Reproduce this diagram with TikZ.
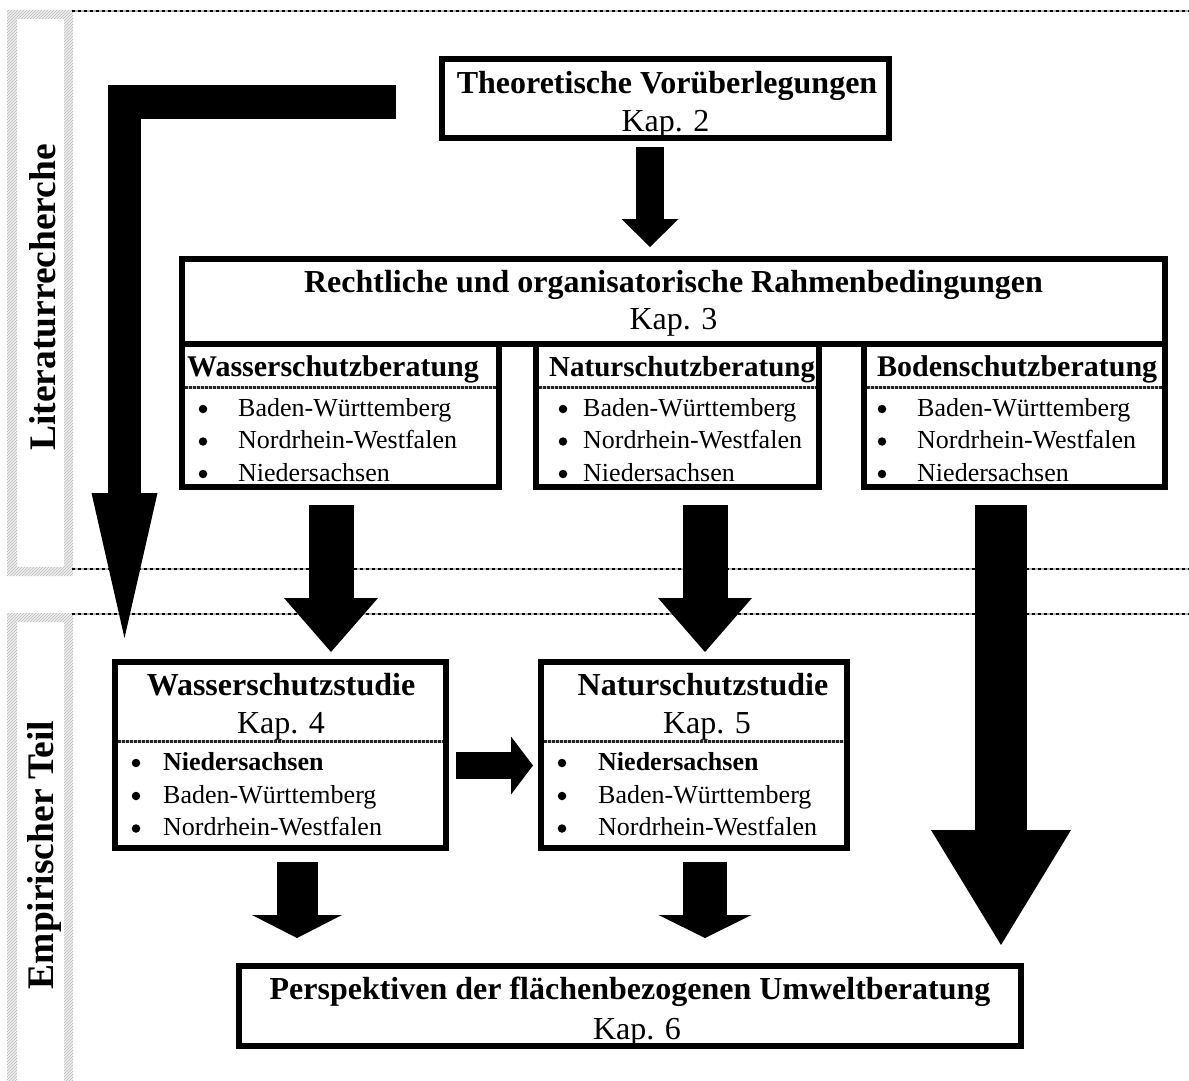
\documentclass[tikz,border=0pt]{standalone}
\usepackage{fontspec}
\setmainfont{Liberation Serif}
\usetikzlibrary{arrows.meta,patterns}
\newcommand\fTitle{\fontsize{32}{38}\selectfont\bfseries}
\newcommand\fKap{\fontsize{32}{38}\selectfont}
\newcommand\fSub{\fontsize{30}{36}\selectfont\bfseries}
\newcommand\fSubN{\fontsize{29}{35}\selectfont\bfseries}
\newcommand\fItem{\fontsize{26}{31}\selectfont}
\newcommand\fSide{\fontsize{37.5}{44}\selectfont\bfseries}
\begin{document}
\begin{tikzpicture}[x=1pt,y=-1pt,
  box/.style 2 args={draw, line width=6pt, inner sep=0pt, minimum width=#1, minimum height=#2},
  txt/.style={anchor=base, inner sep=0pt},
  lft/.style={anchor=base west, inner sep=0pt},
  bul/.style={circle, fill, inner sep=0pt, minimum size=8.5pt},
  fat/.style n args={3}{line width=#1, -{Triangle[length=#2,width=#3,line width=0pt]}},
  dashline/.style={line width=2.5pt, black, dash pattern=on 3pt off 3pt, preaction={draw, gray!60, solid, line width=2.5pt}},
  dotsep/.style={line width=3pt, black!85, dash pattern=on 2.5pt off 1.5pt, preaction={draw, gray!40, solid, line width=3pt}},
  strip/.style={even odd rule}
]
\useasboundingbox (0,0) rectangle (1189,1081);
% side strips
\fill[gray!12, strip] (7,10) rectangle (73,576) (17,19) rectangle (64,567);
\fill[pattern=north east lines, pattern color=gray!55, strip] (7,10) rectangle (73,576) (17,19) rectangle (64,567);
\fill[gray!12, strip] (7,613) rectangle (73,1081) (17,622) rectangle (64,1090);
\fill[pattern=north east lines, pattern color=gray!55, strip] (7,613) rectangle (73,1081) (17,622) rectangle (64,1090);
\node[rotate=90, txt, font=\fSide] (lit) at (55,297.5) {Literaturrecherche};
\node[rotate=90, txt, font=\fSide] (emp) at (53,855) {Empirischer Teil};
% dashed separators
\coordinate (d1a) at (72,11); \coordinate (d1b) at (1189,11);
\coordinate (d2a) at (72,569); \coordinate (d2b) at (1189,569);
\coordinate (d3a) at (72,614); \coordinate (d3b) at (1189,614);
\draw[dashline] (d1a) -- (d1b);
\draw[dashline] (d2a) -- (d2b);
\draw[dashline] (d3a) -- (d3b);
% boxes
\node[box={447pt}{79pt}] (theo) at (665.5,98.5) {};
\node[box={317pt}{143pt}] (wb) at (340.5,415.5) {};
\node[box={283pt}{143pt}] (nb) at (677.5,415.5) {};
\node[box={301pt}{143pt}] (bb) at (1014.5,415.5) {};
\node[box={983pt}{85pt}] (recht) at (673.5,301.5) {};
\node[box={331pt}{186pt}] (ws) at (280.5,755) {};
\node[box={306pt}{186pt}] (ns) at (694,755) {};
\node[box={782pt}{80pt}] (persp) at (630,1006) {};
% texts
\node[txt, font=\fTitle] (theoT) at (667,93) {Theoretische Vorüberlegungen};
\node[txt, font=\fKap] (theoK) at (665.5,131) {Kap. 2};
\node[txt, font=\fTitle] (rechtT) at (673.5,292) {Rechtliche und organisatorische Rahmenbedingungen};
\node[txt, font=\fKap] (rechtK) at (673.5,329) {Kap. 3};
% sub boxes
\node[lft, font=\fSub] (wbT) at (187,376) {Wasserschutzberatung};
\node[lft, font=\fSubN] (nbT) at (549,376) {Naturschutzberatung};
\node[lft, font=\fSub] (bbT) at (877,376) {Bodenschutzberatung};
\draw[dotsep] (185,387) -- (496,387);
\draw[dotsep] (539,387) -- (816,387);
\draw[dotsep] (867,387) -- (1162,387);
\foreach \bx/\tx/\nm in {203/238/w, 563/583/n, 882/917/b}{
  \node[bul] (\nm b1) at (\bx,409) {};
  \node[bul] (\nm b2) at (\bx,441.5) {};
  \node[bul] (\nm b3) at (\bx,474) {};
  \node[lft, font=\fItem] (\nm i1) at (\tx,416) {Baden-Württemberg};
  \node[lft, font=\fItem] (\nm i2) at (\tx,448.5) {Nordrhein-Westfalen};
  \node[lft, font=\fItem] (\nm i3) at (\tx,481) {Niedersachsen};
}
% studies
\node[txt, font=\fTitle] (wsT) at (281,695) {Wasserschutzstudie};
\node[txt, font=\fKap] (wsK) at (281,733) {Kap. 4};
\node[txt, font=\fTitle] (nsT) at (703,695) {Naturschutzstudie};
\node[txt, font=\fKap] (nsK) at (707,733) {Kap. 5};
\draw[dotsep] (118,741) -- (443,741);
\draw[dotsep] (544,741) -- (844,741);
\foreach \bx/\tx/\nm in {136/163/ws, 562/598/ns}{
  \node[bul] (\nm b1) at (\bx,763) {};
  \node[bul] (\nm b2) at (\bx,796) {};
  \node[bul] (\nm b3) at (\bx,828.5) {};
  \node[lft, font=\fItem\bfseries] (\nm i1) at (\tx,770) {Niedersachsen};
  \node[lft, font=\fItem] (\nm i2) at (\tx,803) {Baden-Württemberg};
  \node[lft, font=\fItem] (\nm i3) at (\tx,835.5) {Nordrhein-Westfalen};
}
\node[txt, font=\fTitle] (perspT) at (630,999) {Perspektiven der flächenbezogenen Umweltberatung};
\node[txt, font=\fKap] (perspK) at (637,1039) {Kap. 6};
% arrows
\coordinate (a1s) at (650,147); \coordinate (a1e) at (650,247);
\draw[fat={28pt}{28pt}{57pt}] (a1s) -- (a1e);
\coordinate (Ls) at (396,102); \coordinate (Lc) at (124.5,102); \coordinate (Le) at (124.5,638);
\draw[fat={33pt}{145pt}{66pt}] (Ls) -- (Lc) -- (Le);
\coordinate (a2s) at (331,505); \coordinate (a2e) at (331,652);
\draw[fat={45pt}{54pt}{94pt}] (a2s) -- (a2e);
\coordinate (a3s) at (705,505); \coordinate (a3e) at (705,652);
\draw[fat={45pt}{54pt}{94pt}] (a3s) -- (a3e);
\coordinate (a4s) at (1001,505); \coordinate (a4e) at (1001,945);
\draw[fat={52pt}{115pt}{140pt}] (a4s) -- (a4e);
\coordinate (a5s) at (297,862); \coordinate (a5e) at (297,938);
\draw[fat={41pt}{23pt}{90pt}] (a5s) -- (a5e);
\coordinate (a6s) at (705,862); \coordinate (a6e) at (705,938);
\draw[fat={44pt}{23pt}{93pt}] (a6s) -- (a6e);
\coordinate (a7s) at (456,765.5); \coordinate (a7e) at (533,765.5);
\draw[fat={27pt}{22pt}{58pt}] (a7s) -- (a7e);
\end{tikzpicture}
\end{document}
